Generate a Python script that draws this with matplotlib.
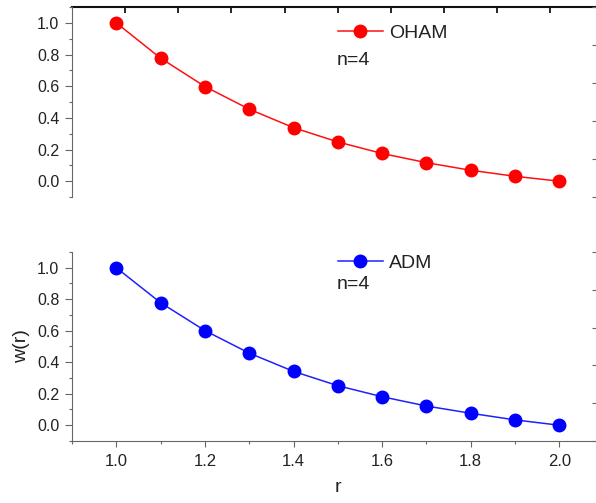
import numpy as np
import matplotlib
matplotlib.use('Agg')
import matplotlib.pyplot as plt
from matplotlib.ticker import MultipleLocator, FormatStrFormatter

plt.rcParams['font.family'] = ['Liberation Sans', 'DejaVu Sans']

# Daten
r = [1.0, 1.1, 1.2, 1.3, 1.4, 1.5, 1.6, 1.7, 1.8, 1.9, 2.0]
w_oham = [1.0, 0.777, 0.598, 0.455, 0.338, 0.248, 0.175, 0.117, 0.069, 0.031, 0.0]
w_adm = [1.0, 0.778, 0.601, 0.458, 0.342, 0.251, 0.181, 0.122, 0.076, 0.034, 0.0]

txt_col = '#222222'
ax_col = '#666666'

fig = plt.figure(figsize=(5.96, 5.03), dpi=100)
ax1 = fig.add_axes([0.1208, 0.6083, 0.892, 0.3777])
ax2 = fig.add_axes([0.1208, 0.1233, 0.892, 0.3757])


def style_axis(ax, top_panel):
    ax.set_xlim(0.9, 2.1)
    ax.set_ylim(-0.1, 1.1)
    ax.yaxis.set_major_locator(MultipleLocator(0.2))
    ax.yaxis.set_minor_locator(MultipleLocator(0.1))
    ax.yaxis.set_major_formatter(FormatStrFormatter('%.1f'))
    ax.xaxis.set_major_locator(MultipleLocator(0.2))
    ax.xaxis.set_minor_locator(MultipleLocator(0.1))
    ax.xaxis.set_major_formatter(FormatStrFormatter('%.1f'))
    ax.spines['right'].set_visible(False)
    ax.spines['top'].set_visible(False)
    ax.spines['left'].set_color(ax_col)
    ax.spines['bottom'].set_color(ax_col)
    ax.tick_params(axis='y', which='major', direction='out', length=5, width=0.8,
                   color=ax_col, labelsize=11.5, labelcolor=txt_col, pad=4)
    ax.tick_params(axis='y', which='minor', direction='out', length=2.5, width=0.8, color=ax_col)
    ax.tick_params(axis='x', which='major', direction='out', length=4.5, width=0.8,
                   color=ax_col, labelsize=12, labelcolor=txt_col, pad=5)
    ax.tick_params(axis='x', which='minor', direction='out', length=2.5, width=0.8, color=ax_col)
    if top_panel:
        ax.spines['bottom'].set_visible(False)
        ax.tick_params(axis='x', which='both', bottom=False, labelbottom=False)
        # obere Achse (eigene Skala 0..10)
        sec = ax.secondary_xaxis('top', functions=(lambda x: (x - 0.9) / 0.12,
                                                   lambda t: 0.9 + 0.12 * t))
        sec.set_xticks(np.arange(1, 10))
        sec.tick_params(direction='in', length=4, width=1.2, color='black', labeltop=False)
        sec.spines['top'].set_linewidth(1.5)
        sec.spines['top'].set_color('#111111')
    # rechte Achse (eigene Skala 0..5)
    secy = ax.secondary_yaxis('right', functions=(lambda y: (y + 0.1) / 0.24,
                                                  lambda t: t * 0.24 - 0.1))
    secy.set_yticks(np.arange(0, 6))
    secy.tick_params(direction='in', length=9, width=0.8, color=ax_col, labelright=False)


style_axis(ax1, True)
style_axis(ax2, False)

ax1.plot(r, w_oham, '-', color='#ff1010', lw=1.1, marker='o', ms=9,
         mfc='#ff0000', mec='#ff0000', label='OHAM')
ax2.plot(r, w_adm, '-', color='#2020ff', lw=1.1, marker='o', ms=9,
         mfc='#0000ff', mec='#0000ff', label='ADM')

ax1.legend(loc='center left', bbox_to_anchor=(0.5, 0.863), frameon=False, fontsize=14,
           handlelength=2.3, handletextpad=0.35, borderpad=0, borderaxespad=0,
           labelcolor=txt_col)
ax2.legend(loc='center left', bbox_to_anchor=(0.5, 0.942), frameon=False, fontsize=14,
           handlelength=2.3, handletextpad=0.35, borderpad=0, borderaxespad=0,
           labelcolor=txt_col)

ax1.text(0.498, 0.718, 'n=4', transform=ax1.transAxes, fontsize=14, va='center', color=txt_col)
ax2.text(0.498, 0.828, 'n=4', transform=ax2.transAxes, fontsize=14, va='center', color=txt_col)

ax2.set_ylabel('w(r)', fontsize=14, color=txt_col, labelpad=5)
ax2.set_xlabel('r', fontsize=14, color=txt_col, labelpad=7)

fig.savefig('out.png', dpi=100)
